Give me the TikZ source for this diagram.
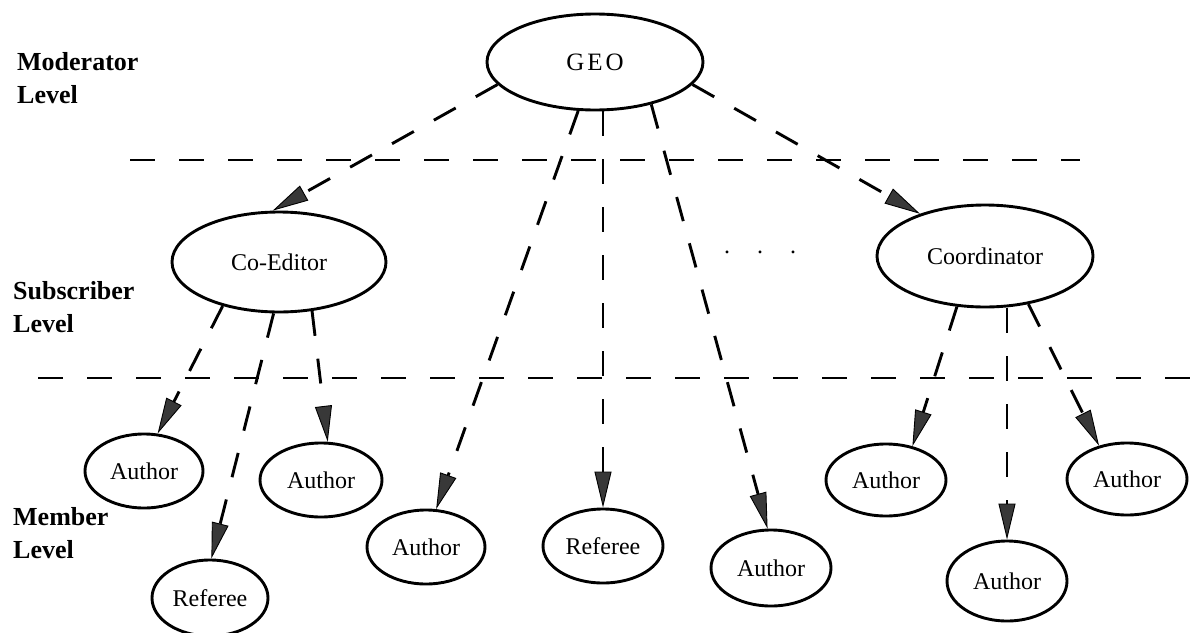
\documentclass[tikz,border=0pt]{standalone}
\usepackage{fontspec}
\setmainfont{Liberation Serif}
\usetikzlibrary{arrows.meta,shapes.geometric}
\definecolor{arrowgray}{gray}{0.22}
\begin{document}
\begin{tikzpicture}[x=1pt,y=-1pt,
  role/.style 2 args={ellipse, draw, line width=2.9pt, inner sep=0pt,
    minimum width=#1pt, minimum height=#2pt,
    font=\fontsize{24}{28}\selectfont},
  link/.style={line width=2.9pt, dash pattern=on 25pt off 23pt,
    -{Triangle[length=36pt,width=17pt,line width=0.9pt,fill=arrowgray]}},
  tier/.style={line width=2.9pt, dash pattern=on 25pt off 24pt},
  levellabel/.style={font=\bfseries\fontsize{26}{33}\selectfont,
    align=left, anchor=base west, inner sep=0pt}
]
\useasboundingbox (0,0) rectangle (1196,632);

% level separators
\coordinate (tierA-w) at (130,160);
\coordinate (tierA-e) at (1080,160);
\coordinate (tierB-w) at (38,378);
\coordinate (tierB-e) at (1196,378);
\draw[tier] (tierA-w) -- (tierA-e);
\draw[tier] (tierB-w) -- (tierB-e);

% level labels
\node[levellabel] (modlbl) at (17,103) {Moderator\\Level};
\node[levellabel] (sublbl) at (13,332) {Subscriber\\Level};
\node[levellabel] (memlbl) at (13,558) {Member\\Level};

% moderator
\node[role={216}{96}, font=\fontsize{25}{28}\selectfont] (geo) at (595,62)
  {G\kern3pt E\kern3pt O};

% subscribers
\node[role={214}{100}] (coed) at (279,262) {Co-Editor};
\node[role={216}{102}] (coord) at (985,256) {Coordinator};
\node[anchor=base, font=\fontsize{24}{28}\selectfont] (dots) at (760,253)
  {.\hspace{27pt}.\hspace{27pt}.};

% members
\node[role={118}{74}] (a1) at (144,471) {Author};
\node[role={122}{74}] (a2) at (321,480) {Author};
\node[role={116}{76}] (r1) at (210,598) {Referee};
\node[role={118}{74}] (a3) at (426,547) {Author};
\node[role={120}{74}] (r2) at (603,546) {Referee};
\node[role={120}{76}] (a4) at (771,568) {Author};
\node[role={120}{72}] (a5) at (886,480) {Author};
\node[role={120}{80}] (a6) at (1007,581) {Author};
\node[role={120}{72}] (a7) at (1127,479) {Author};

% links from the moderator
\draw[link] (geo.193) -- (coed.97);
\draw[link] (geo.-13) -- (coord.147);
\draw[link] (geo.251.6) -- (a3.75);
\draw[link] (r2.north |- geo.south) -- (r2.north);
\draw[link] (geo.-37) -- (a4.95);

% links from the co-editor
\draw[link] (coed.218) -- (a1.70);
\draw[link] (coed.264) -- (r1.88);
\draw[link] (coed.-56) -- (a2.80);

% links from the coordinator
\draw[link] (coord.241) -- (a5.52);
\draw[link] (a6.north |- coord.south) -- (a6.north);
\draw[link] (coord.-48.6) -- (a7.130);
\end{tikzpicture}
\end{document}
